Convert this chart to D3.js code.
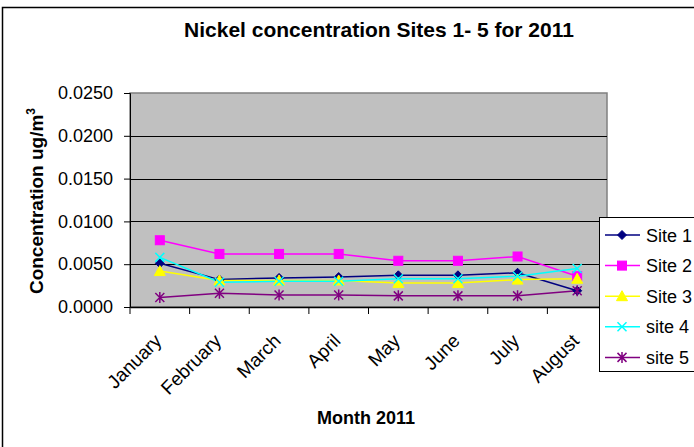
<!DOCTYPE html>
<html><head><meta charset="utf-8">
<script src="https://cdn.jsdelivr.net/npm/d3@7/dist/d3.min.js"></script>
<style>body{margin:0;background:#fff;}svg{display:block;font-family:"Liberation Sans",Arial,sans-serif;}</style>
</head><body>
<script>
const months = ["January","February","March","April","May","June","July","August"];
const site1 = [0.0051,0.0032,0.0034,0.0035,0.0037,0.0037,0.0040,0.0019];
const site2 = [0.0078,0.0062,0.0062,0.0062,0.0054,0.0054,0.0059,0.0036];
const site3 = [0.0042,0.0031,0.0031,0.0031,0.0028,0.0028,0.0032,0.0033];
const site4 = [0.0058,0.0029,0.0030,0.0030,0.0033,0.0033,0.0036,0.0045];
const site5 = [0.0011,0.0016,0.0014,0.0014,0.0013,0.0013,0.0013,0.0019];
const seriesNames = ["Site 1","Site 2","Site 3","site 4","site 5"];
const yTicks = [0,0.005,0.01,0.015,0.02,0.025];
const title = "Nickel concentration Sites 1- 5 for 2011";
const xTitle = "Month 2011";

const series = [
  {name:seriesNames[0], values:site1, color:"#000080", marker:"diamond"},
  {name:seriesNames[1], values:site2, color:"#FF00FF", marker:"square"},
  {name:seriesNames[2], values:site3, color:"#FFFF00", marker:"triangle"},
  {name:seriesNames[3], values:site4, color:"#00FFFF", marker:"x"},
  {name:seriesNames[4], values:site5, color:"#800080", marker:"star"}
];

const W=694,H=447;
const svg=d3.select("body").append("svg").attr("width",W).attr("height",H);
svg.append("rect").attr("x",0).attr("y",0).attr("width",W).attr("height",H).attr("fill","#fff");
svg.append("rect").attr("x",2.5).attr("y",7.5).attr("width",900).attr("height",900)
  .attr("fill","none").attr("stroke","#000").attr("stroke-width",1.5);

const pl=130,pr=607,pt=93,pb=307;
const x=d3.scaleBand().domain(months).range([pl,pr]);
const y=d3.scaleLinear().domain([0,0.025]).range([pb,pt]);

svg.append("rect").attr("x",pl).attr("y",pt).attr("width",pr-pl).attr("height",pb-pt)
  .attr("fill","#C0C0C0").attr("stroke","#808080").attr("stroke-width",1.5);

// gridlines
svg.append("g").selectAll("line").data(yTicks.filter(d=>d>0&&d<0.025)).join("line")
  .attr("x1",pl).attr("x2",pr).attr("y1",d=>Math.round(y(d))+0.5).attr("y2",d=>Math.round(y(d))+0.5)
  .attr("stroke","#000").attr("stroke-width",1);

// y axis
const ya=svg.append("g").attr("transform",`translate(${pl},0)`)
  .call(d3.axisLeft(y).tickValues(yTicks).tickFormat(d3.format(".4f")).tickSize(6).tickPadding(11));
ya.select(".domain").attr("stroke","#000");
ya.selectAll("text").attr("font-size",18).attr("fill","#000").attr("font-family","Liberation Sans, Arial");

// x axis
const xa=svg.append("g").attr("transform",`translate(0,${pb})`)
  .call(d3.axisBottom(x).tickSize(0).tickFormat(""));
xa.select(".domain").attr("stroke","#000").attr("stroke-width",1.5);
svg.append("g").selectAll("line").data(months.concat(["__end"])).join("line")
  .attr("x1",(d,i)=>pl+i*x.bandwidth()).attr("x2",(d,i)=>pl+i*x.bandwidth())
  .attr("y1",pb).attr("y2",pb+7).attr("stroke","#000");
svg.append("g").selectAll("text").data(months).join("text")
  .attr("transform",d=>`translate(${x(d)+x.bandwidth()/2+3},${pb+35}) rotate(-45)`)
  .attr("text-anchor","end").attr("font-size",19).attr("fill","#000").text(d=>d);

// lines
const line=d3.line().x((d,i)=>x(months[i])+x.bandwidth()/2).y(d=>y(d));
function drawMarker(g,type,color,cx,cy,s){
  if(type==="diamond"){
    g.append("path").attr("d",`M${cx},${cy-s}L${cx+s},${cy}L${cx},${cy+s}L${cx-s},${cy}Z`).attr("fill",color).attr("stroke",color);
  } else if(type==="square"){
    g.append("rect").attr("x",cx-s).attr("y",cy-s).attr("width",2*s).attr("height",2*s).attr("fill",color).attr("stroke",color);
  } else if(type==="triangle"){
    g.append("path").attr("d",`M${cx},${cy-s-1}L${cx+s+1},${cy+s}L${cx-s-1},${cy+s}Z`).attr("fill",color).attr("stroke",color);
  } else if(type==="x"){
    g.append("path").attr("d",`M${cx-s},${cy-s}L${cx+s},${cy+s}M${cx-s},${cy+s}L${cx+s},${cy-s}`).attr("stroke",color).attr("stroke-width",1.5);
  } else {
    g.append("path").attr("d",`M${cx-s},${cy-s}L${cx+s},${cy+s}M${cx-s},${cy+s}L${cx+s},${cy-s}M${cx},${cy-s-1}L${cx},${cy+s+1}`).attr("stroke",color).attr("stroke-width",1.5);
  }
}
const sg=svg.append("g");
series.forEach(s=>{
  sg.append("path").datum(s.values).attr("d",line).attr("fill","none").attr("stroke",s.color).attr("stroke-width",1.5);
});
series.forEach(s=>{
  const g=sg.append("g");
  s.values.forEach((v,i)=>drawMarker(g,s.marker,s.color,x(months[i])+x.bandwidth()/2,y(v),4.5));
});

// titles
svg.append("text").attr("x",379).attr("y",37).attr("text-anchor","middle")
  .attr("font-size",21).attr("font-weight","bold").text(title);
svg.append("text").attr("x",366).attr("y",424).attr("text-anchor","middle")
  .attr("font-size",18).attr("font-weight","bold").text(xTitle);
const yt=svg.append("text").attr("transform","translate(43,201) rotate(-90)").attr("text-anchor","middle")
  .attr("font-size",19).attr("font-weight","bold");
yt.append("tspan").text("Concentration ug/m");
yt.append("tspan").attr("font-size",12).attr("dy",-8).text("3");

// legend
const lx=599,ly=217;
svg.append("rect").attr("x",lx+0.5).attr("y",ly+0.5).attr("width",200).attr("height",154)
  .attr("fill","#fff").attr("stroke","#000").attr("stroke-width",1);
const lsp=30.6;
series.forEach((s,i)=>{
  const cy=ly+18+i*lsp;
  const g=svg.append("g");
  g.append("line").attr("x1",605).attr("x2",640).attr("y1",cy).attr("y2",cy).attr("stroke",s.color).attr("stroke-width",1.5);
  drawMarker(g,s.marker,s.color,622,cy,4.5);
  g.append("text").attr("x",646).attr("y",cy+6.5).attr("font-size",18).text(s.name);
});
</script>
</body></html>
